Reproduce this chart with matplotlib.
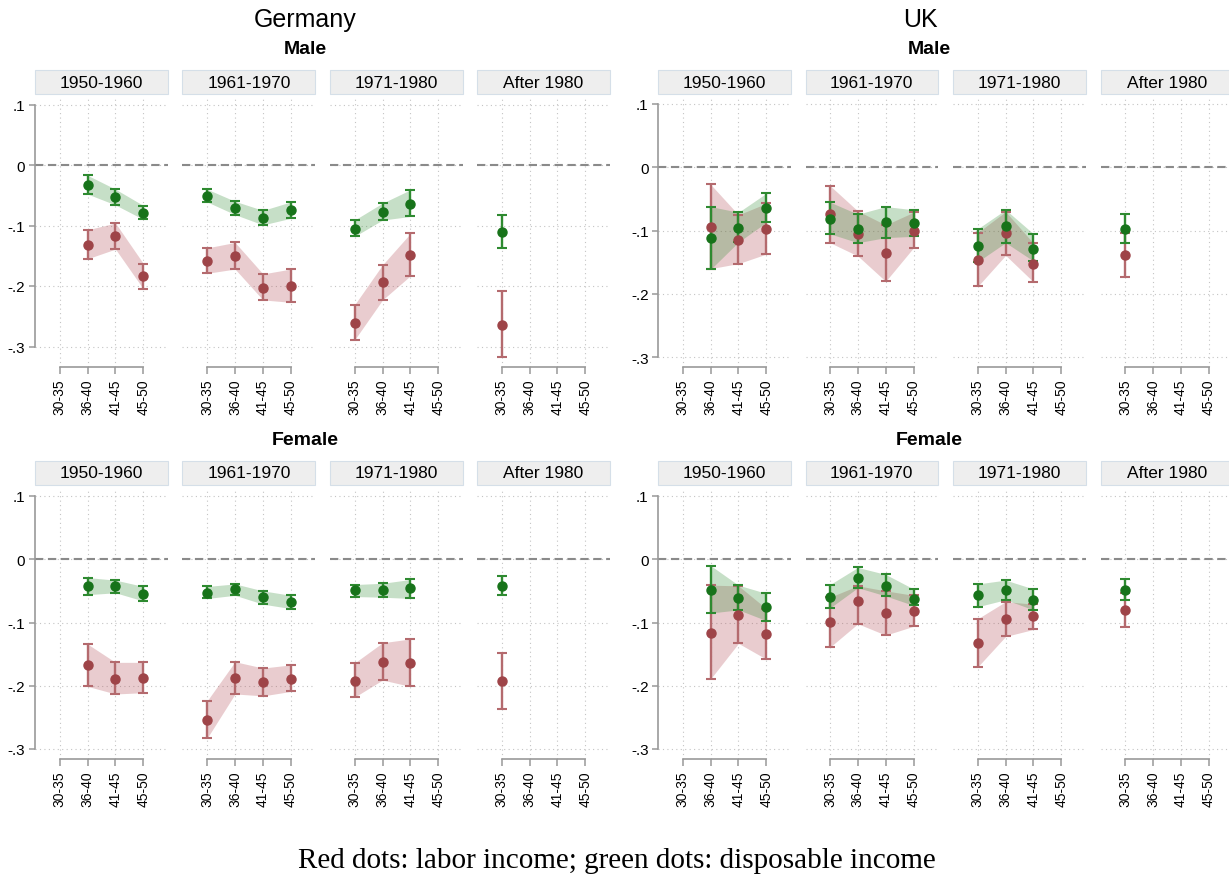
import numpy as np
import matplotlib
matplotlib.use("Agg")
import matplotlib.pyplot as plt
from matplotlib.patches import Rectangle

plt.rcParams["font.family"] = ["Liberation Sans", "DejaVu Sans"]

nan = np.nan

cohorts = ["1950-1960", "1961-1970", "1971-1980", "After 1980"]
age_groups = ["30-35", "36-40", "41-45", "45-50"]
y_ticks = [0.1, 0, -0.1, -0.2, -0.3]
y_tick_labels = [".1", "0", "-.1", "-.2", "-.3"]

# rows = cohorts, columns = age groups
de_male_lab = [[nan, -0.132, -0.118, -0.184], [-0.158, -0.150, -0.203, -0.200],
               [-0.261, -0.194, -0.149, nan], [-0.264, nan, nan, nan]]
de_male_lab_lo = [[nan, -0.155, -0.139, -0.205], [-0.179, -0.172, -0.223, -0.227],
                  [-0.289, -0.223, -0.183, nan], [-0.318, nan, nan, nan]]
de_male_lab_hi = [[nan, -0.107, -0.096, -0.163], [-0.137, -0.128, -0.180, -0.172],
                  [-0.231, -0.165, -0.113, nan], [-0.208, nan, nan, nan]]
de_male_disp = [[nan, -0.033, -0.053, -0.079], [-0.051, -0.071, -0.087, -0.074],
                [-0.105, -0.078, -0.064, nan], [-0.110, nan, nan, nan]]
de_male_disp_lo = [[nan, -0.048, -0.066, -0.090], [-0.061, -0.082, -0.099, -0.088],
                   [-0.118, -0.091, -0.085, nan], [-0.137, nan, nan, nan]]
de_male_disp_hi = [[nan, -0.017, -0.040, -0.067], [-0.040, -0.060, -0.075, -0.061],
                   [-0.091, -0.063, -0.041, nan], [-0.082, nan, nan, nan]]

de_fem_lab = [[nan, -0.167, -0.189, -0.188], [-0.254, -0.188, -0.194, -0.189],
              [-0.192, -0.163, -0.164, nan], [-0.193, nan, nan, nan]]
de_fem_lab_lo = [[nan, -0.201, -0.213, -0.211], [-0.283, -0.213, -0.216, -0.209],
                 [-0.218, -0.191, -0.201, nan], [-0.237, nan, nan, nan]]
de_fem_lab_hi = [[nan, -0.134, -0.163, -0.163], [-0.224, -0.162, -0.172, -0.167],
                 [-0.164, -0.132, -0.126, nan], [-0.149, nan, nan, nan]]
de_fem_disp = [[nan, -0.042, -0.042, -0.055], [-0.053, -0.047, -0.059, -0.067],
               [-0.049, -0.049, -0.046, nan], [-0.043, nan, nan, nan]]
de_fem_disp_lo = [[nan, -0.056, -0.053, -0.066], [-0.062, -0.057, -0.071, -0.078],
                  [-0.059, -0.060, -0.062, nan], [-0.057, nan, nan, nan]]
de_fem_disp_hi = [[nan, -0.029, -0.033, -0.043], [-0.043, -0.039, -0.050, -0.057],
                  [-0.040, -0.038, -0.032, nan], [-0.027, nan, nan, nan]]

uk_male_lab = [[nan, -0.094, -0.115, -0.097], [-0.074, -0.106, -0.136, -0.100],
               [-0.146, -0.103, -0.152, nan], [-0.139, nan, nan, nan]]
uk_male_lab_lo = [[nan, -0.160, -0.152, -0.137], [-0.119, -0.140, -0.180, -0.127],
                  [-0.188, -0.139, -0.181, nan], [-0.173, nan, nan, nan]]
uk_male_lab_hi = [[nan, -0.027, -0.075, -0.057], [-0.029, -0.069, -0.091, -0.071],
                  [-0.103, -0.070, -0.120, nan], [-0.104, nan, nan, nan]]
uk_male_disp = [[nan, -0.112, -0.096, -0.065], [-0.082, -0.097, -0.086, -0.088],
                [-0.124, -0.093, -0.129, nan], [-0.097, nan, nan, nan]]
uk_male_disp_lo = [[nan, -0.161, -0.118, -0.087], [-0.105, -0.119, -0.111, -0.109],
                   [-0.149, -0.119, -0.148, nan], [-0.120, nan, nan, nan]]
uk_male_disp_hi = [[nan, -0.062, -0.071, -0.041], [-0.055, -0.074, -0.062, -0.067],
                   [-0.097, -0.067, -0.105, nan], [-0.074, nan, nan, nan]]

uk_fem_lab = [[nan, -0.116, -0.088, -0.118], [-0.099, -0.066, -0.085, -0.082],
              [-0.133, -0.094, -0.090, nan], [-0.081, nan, nan, nan]]
uk_fem_lab_lo = [[nan, -0.189, -0.133, -0.158], [-0.139, -0.102, -0.120, -0.106],
                 [-0.170, -0.122, -0.111, nan], [-0.107, nan, nan, nan]]
uk_fem_lab_hi = [[nan, -0.041, -0.042, -0.078], [-0.060, -0.042, -0.050, -0.057],
                 [-0.094, -0.067, -0.071, nan], [-0.054, nan, nan, nan]]
uk_fem_disp = [[nan, -0.048, -0.061, -0.076], [-0.059, -0.029, -0.042, -0.063],
               [-0.057, -0.048, -0.064, nan], [-0.048, nan, nan, nan]]
uk_fem_disp_lo = [[nan, -0.085, -0.080, -0.097], [-0.077, -0.045, -0.058, -0.073],
                  [-0.075, -0.064, -0.080, nan], [-0.064, nan, nan, nan]]
uk_fem_disp_hi = [[nan, -0.010, -0.041, -0.054], [-0.040, -0.013, -0.024, -0.047],
                  [-0.039, -0.033, -0.047, nan], [-0.031, nan, nan, nan]]

RED = "#9e4448"
RED_BAR = "#b46a6e"
RED_FILL = "#b04650"
GREEN = "#17731a"
GREEN_BAR = "#2e8a30"
GREEN_FILL = "#2f8a30"

W, H = 1229, 879
fig = plt.figure(figsize=(W / 100, H / 100), dpi=100)


def fig_rect(x, y_top, w, h):
    return [x / W, 1 - (y_top + h) / H, w / W, h / H]


def draw_series(ax, xs, mid, lo, hi, fill, bar, mark, z):
    mid, lo, hi = np.asarray(mid), np.asarray(lo), np.asarray(hi)
    ok = ~np.isnan(mid)
    if ok.sum() > 1:
        ax.fill_between(xs[ok], lo[ok], hi[ok], color=fill, alpha=0.27, lw=0, zorder=z)
    ax.errorbar(xs[ok], mid[ok], yerr=[mid[ok] - lo[ok], hi[ok] - mid[ok]], fmt="none",
                ecolor=bar, elinewidth=1.7, capsize=3.8, capthick=1.5, zorder=z + 2)
    ax.plot(xs[ok], mid[ok], "o", color=mark, ms=6.5, zorder=z + 4)


def draw_block(lefts, width, top, bottom, y01, y03, series):
    scale = (y03 - y01) / 0.4
    ylim = (-0.3 - (bottom - y03) / scale, 0.1 + (y01 - top) / scale)
    xs = np.arange(1, 5)
    for i, left in enumerate(lefts):
        # strip
        fig.add_artist(Rectangle((left / W, 1 - (top - 3) / H), width / W, 24 / H,
                                 transform=fig.transFigure, facecolor="#eeeeee",
                                 edgecolor="#d5dfe8", lw=0.8))
        fig.text((left + width / 2) / W, 1 - (top - 15) / H, cohorts[i],
                 ha="center", va="center", fontsize=12.5)
        ax = fig.add_axes(fig_rect(left, top, width, bottom - top))
        ax.set_xlim(0.12, 4.88)
        ax.set_ylim(*ylim)
        ax.set_yticks(y_ticks)
        ax.set_yticklabels(y_tick_labels, fontsize=11)
        ax.set_xticks(xs)
        ax.set_xticklabels(age_groups, rotation=90, fontsize=10)
        ax.grid(True, color="#c4c4c4", ls=(0, (1, 3)), lw=0.8)
        ax.set_axisbelow(True)
        for s in ["top", "right"]:
            ax.spines[s].set_visible(False)
        ax.spines["bottom"].set_bounds(1, 4)
        ax.spines["bottom"].set_color("#999999")
        ax.spines["bottom"].set_linewidth(1.2)
        ax.tick_params(axis="x", length=5, width=1.1, color="#999999", pad=3)
        if i == 0:
            ax.spines["left"].set_bounds(-0.3, 0.1)
            ax.spines["left"].set_color("#999999")
            ax.spines["left"].set_linewidth(1.2)
            ax.tick_params(axis="y", length=4, width=1.1, color="#999999", pad=3)
        else:
            ax.spines["left"].set_visible(False)
            ax.tick_params(axis="y", left=False, labelleft=False)
        ax.axhline(0, color="#8a8a8a", ls=(0, (4, 2.2)), lw=1.5, zorder=1)
        lab, lab_lo, lab_hi, disp, disp_lo, disp_hi = series
        draw_series(ax, xs, lab[i], lab_lo[i], lab_hi[i], RED_FILL, RED_BAR, RED, 2)
        draw_series(ax, xs, disp[i], disp_lo[i], disp_hi[i], GREEN_FILL, GREEN_BAR, GREEN, 3)


de_lefts = [35, 182.5, 330, 477]
uk_lefts = [658.3, 805.5, 953.3, 1100.7]

draw_block(de_lefts, 133, 98, 368, 105.5, 347.5,
           (de_male_lab, de_male_lab_lo, de_male_lab_hi, de_male_disp, de_male_disp_lo, de_male_disp_hi))
draw_block(uk_lefts, 132.5, 98, 368, 105, 358.3,
           (uk_male_lab, uk_male_lab_lo, uk_male_lab_hi, uk_male_disp, uk_male_disp_lo, uk_male_disp_hi))
draw_block(de_lefts, 133, 489, 760, 497, 750,
           (de_fem_lab, de_fem_lab_lo, de_fem_lab_hi, de_fem_disp, de_fem_disp_lo, de_fem_disp_hi))
draw_block(uk_lefts, 132.5, 489, 760, 497, 750,
           (uk_fem_lab, uk_fem_lab_lo, uk_fem_lab_hi, uk_fem_disp, uk_fem_disp_lo, uk_fem_disp_hi))

# titles
fig.text(305 / W, 1 - 20 / H, "Germany", ha="center", va="center", fontsize=18)
fig.text(920 / W, 1 - 20 / H, "UK", ha="center", va="center", fontsize=18)
for x in [305, 929]:
    fig.text(x / W, 1 - 49 / H, "Male", ha="center", va="center", fontsize=14, fontweight="bold")
    fig.text(x / W, 1 - 441 / H, "Female", ha="center", va="center", fontsize=14, fontweight="bold")

fig.text(617 / W, 1 - 861 / H, "Red dots: labor income; green dots: disposable income",
         ha="center", va="center", fontsize=21, family=["Liberation Serif", "DejaVu Serif"])

fig.savefig("out.png", dpi=100)
